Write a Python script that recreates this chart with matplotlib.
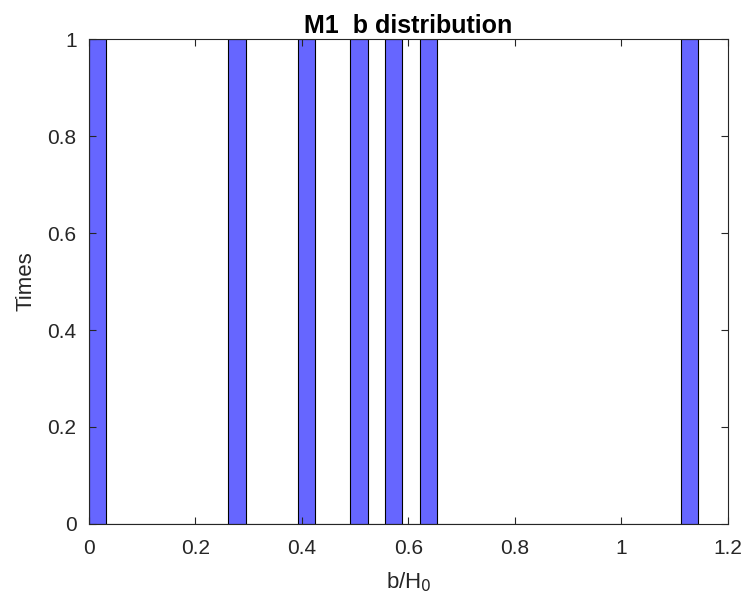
import numpy as np
import matplotlib
matplotlib.use('Agg')
from matplotlib import pyplot as plt

# b/H0 samples (one hit per bin)
b_vals = [0.015, 0.275, 0.405, 0.505, 0.57, 0.635, 1.13]
n_bins = 35
b_range = (0, 1.1445)

x_ticks = [0, 0.2, 0.4, 0.6, 0.8, 1, 1.2]
y_ticks = [0, 0.2, 0.4, 0.6, 0.8, 1]

plt.rcParams['font.family'] = ['Liberation Sans', 'DejaVu Sans']

fig = plt.figure(figsize=(7.48, 6.10), dpi=100)
ax = fig.add_axes([0.119, 0.141, 0.854, 0.795])

ax.hist(b_vals, bins=n_bins, range=b_range, color='#6666ff', edgecolor='black', linewidth=0.8)

ax.set_xlim(0, 1.2)
ax.set_ylim(0, 1)
ax.set_xticks(x_ticks)
ax.set_xticklabels(['0', '0.2', '0.4', '0.6', '0.8', '1', '1.2'])
ax.set_yticks(y_ticks)
ax.set_yticklabels(['0', '0.2', '0.4', '0.6', '0.8', '1'])

dark = '#262626'
for s in ax.spines.values():
    s.set_color(dark)
    s.set_linewidth(0.8)
ax.tick_params(direction='in', top=True, right=True, length=5, width=0.8,
               colors=dark, labelsize=15)
ax.tick_params(axis='x', pad=11)
ax.tick_params(axis='y', pad=9)

ax.set_title('M1  b distribution', fontsize=18, fontweight='bold', pad=4)
ax.set_xlabel('b/H$_0$', fontsize=16, color=dark, labelpad=9)
ax.set_ylabel('Times', fontsize=16, color=dark, labelpad=8)

fig.savefig('out.png', dpi=100)
